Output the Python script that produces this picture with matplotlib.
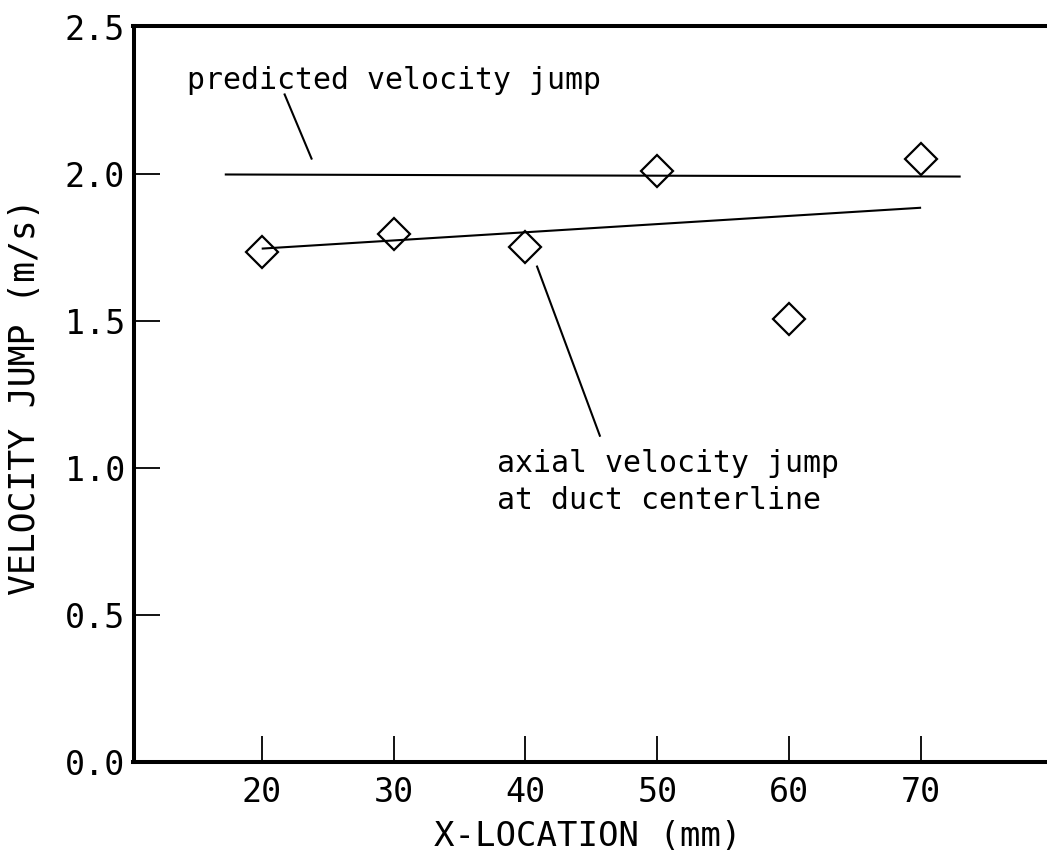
import matplotlib
matplotlib.use("Agg")
import matplotlib.pyplot as plt

# ---- data ----
x_location = [20, 30, 40, 50, 60, 70]
velocity_jump = [1.735, 1.796, 1.752, 2.010, 1.507, 2.048]

fit_x = [20, 70]
fit_y = [1.745, 1.884]

predicted_x = [17.2, 73.0]
predicted_y = [1.997, 1.990]

leader1_x = [21.74, 23.78]
leader1_y = [2.269, 2.051]
leader2_x = [40.88, 45.64]
leader2_y = [1.684, 1.109]

x_ticks = [20, 30, 40, 50, 60, 70]
y_ticks = [0.0, 0.5, 1.0, 1.5, 2.0, 2.5]
y_tick_labels = ["0.0", "0.5", "1.0", "1.5", "2.0", "2.5"]

FONT = "DejaVu Sans Mono"
plt.rcParams["font.family"] = [FONT, "DejaVu Sans"]

fig = plt.figure(figsize=(10.47, 8.55), dpi=100)
ax = fig.add_axes([133.5 / 1047, 93 / 855, (1053 - 133.5) / 1047, 735.5 / 855])

ax.plot(predicted_x, predicted_y, color="black", lw=1.5, solid_capstyle="butt")
ax.plot(fit_x, fit_y, color="black", lw=1.5, solid_capstyle="butt")
ax.plot(x_location, velocity_jump, linestyle="none", marker="D", ms=16.5,
        mfc="none", mec="black", mew=1.6)
ax.plot(leader1_x, leader1_y, color="black", lw=1.5)
ax.plot(leader2_x, leader2_y, color="black", lw=1.5)

ax.text(14.33, 2.286, "predicted velocity jump", fontsize=21.5,
        ha="left", va="baseline")
ax.text(37.85, 0.986, "axial velocity jump", fontsize=21.5,
        ha="left", va="baseline")
ax.text(37.85, 0.861, "at duct centerline", fontsize=21.5,
        ha="left", va="baseline")

ax.set_xlim(10.28, 80)
ax.set_ylim(0, 2.5)
ax.set_xticks(x_ticks)
ax.set_xticklabels([str(t) for t in x_ticks])
ax.set_yticks(y_ticks)
ax.set_yticklabels(y_tick_labels)

ax.tick_params(axis="both", direction="in", length=19, width=1.3,
               labelsize=24, color="black")
ax.tick_params(axis="x", pad=10)
ax.tick_params(axis="y", pad=6)
ax.tick_params(top=False, right=False)

for s in ax.spines.values():
    s.set_linewidth(2.9)
    s.set_color("black")

fig.text(25 / 1047, 1 - 397 / 855, "VELOCITY JUMP (m/s)", rotation=90,
         fontsize=25, ha="center", va="center")
fig.text(588 / 1047, 1 - 836 / 855, "X-LOCATION (mm)", fontsize=24.5,
         ha="center", va="center")

fig.savefig("out.png", dpi=100)
